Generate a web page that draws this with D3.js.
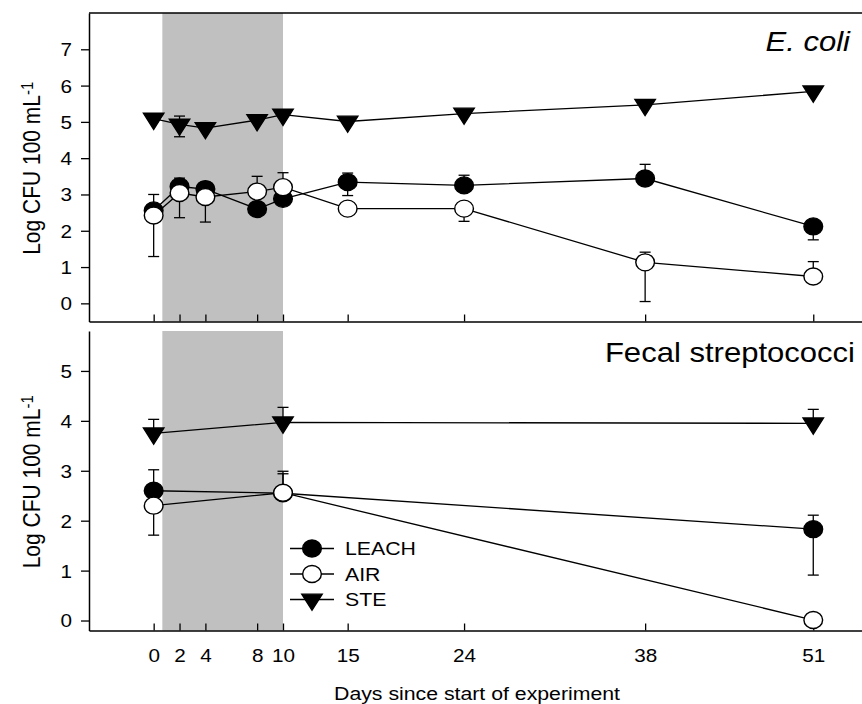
<!DOCTYPE html>
<html>
<head>
<meta charset="utf-8">
<script src="https://cdn.jsdelivr.net/npm/d3@7"></script>
<style>
  body { margin: 0; background: #fff; }
  text { font-family: "Liberation Sans", Arial, sans-serif; fill: #000; }
</style>
</head>
<body>
<div id="chart"></div>
<script>
// days sampled
var ecoliDays = [0, 2, 4, 8, 10, 15, 24, 38, 51];
var fecalDays = [0, 10, 51];
var axisDays  = [0, 2, 4, 8, 10, 15, 24, 38, 51];

// E. coli, log CFU 100 mL-1
var ecoliLeach = [2.56, 3.22, 3.15, 2.60, 2.88, 3.34, 3.25, 3.44, 2.12];
var ecoliAir   = [2.42, 3.04, 2.93, 3.08, 3.20, 2.61, 2.61, 1.13, 0.74];
var ecoliSte   = [5.09, 4.93, 4.83, 5.05, 5.20, 5.01, 5.23, 5.47, 5.84];
// error bar ends (as drawn)
var ecoliLeachBars = [[3.00], [3.45], [3.34], [], [], [3.59, 2.97], [3.53], [3.83], [1.75]];
var ecoliAirBars   = [[1.29], [2.36], [2.24], [3.50], [3.60], [], [2.26], [1.41, 0.05], [1.15]];
var ecoliSteBars   = [[], [5.16, 4.59], [], [], [], [], [], [], []];

// Fecal streptococci
var fecalLeach = [2.60, 2.55, 1.83];
var fecalAir   = [2.30, 2.56, 0.01];
var fecalSte   = [3.75, 3.97, 3.95];
var fecalLeachBars = [[3.02], [2.99], [2.11, 0.91]];
var fecalAirBars   = [[1.71], [2.94], []];
var fecalSteBars   = [[4.03], [4.27], [4.23]];

var seriesNames = ["LEACH", "AIR", "STE"];
var shadeDays = [0.67, 10];
var ecoliTicks = [0, 1, 2, 3, 4, 5, 6, 7];
var fecalTicks = [0, 1, 2, 3, 4, 5];

var W = 862, H = 704, SX = 1.15;

var svg = d3.select("#chart").append("svg")
    .attr("width", W)
    .attr("height", H);

var x = d3.scaleLinear().domain([-5, 55]).range([89, 865]);

var panels = [
  { title: "E. coli", italic: true, titleY: 51, titleX: 850,
    y: d3.scaleLinear().domain([-0.5, 8]).range([321.5, 13]),
    ticks: ecoliTicks, days: ecoliDays, labels: false,
    data: [ecoliLeach, ecoliAir, ecoliSte],
    bars: [ecoliLeachBars, ecoliAirBars, ecoliSteBars] },
  { title: "Fecal streptococci", italic: false, titleY: 361.5, titleX: 855,
    y: d3.scaleLinear().domain([-0.2, 5.8]).range([630.5, 331]),
    ticks: fecalTicks, days: fecalDays, labels: true,
    data: [fecalLeach, fecalAir, fecalSte],
    bars: [fecalLeachBars, fecalAirBars, fecalSteBars] }
];

var circle = d3.symbol().type(d3.symbolCircle).size(Math.PI * 8.5 * 8.5)();
var tri = d3.symbol().type(d3.symbolTriangle).size(150)();
var markers = [
  { path: circle, fill: "#000", rot: 0 },
  { path: circle, fill: "#fff", rot: 0 },
  { path: tri,    fill: "#000", rot: 180 }
];

function markerTransform(px, py, m) {
  return "translate(" + px + "," + py + ") scale(1.1,1) rotate(" + m.rot + ")";
}

panels.forEach(function(p) {
  var y = p.y;
  var g = svg.append("g");
  var y0 = y.range()[0], y1 = y.range()[1];

  // shaded period
  g.append("rect")
      .attr("x", x(shadeDays[0]))
      .attr("y", y1)
      .attr("width", x(shadeDays[1]) - x(shadeDays[0]))
      .attr("height", y0 - y1)
      .attr("fill", "#c0c0c0");

  // y axis
  var ya = g.append("g")
      .attr("transform", "translate(" + x.range()[0] + ",0)")
      .call(d3.axisLeft(y).tickValues(p.ticks).tickSizeInner(8).tickSizeOuter(0).tickFormat(d3.format("d")));
  ya.selectAll("text")
      .attr("x", null).attr("dy", "0.36em")
      .attr("transform", "translate(-17,0) scale(" + SX + ",1)")
      .style("font-size", "18px");

  // x axis (ticks inside)
  var xa = g.append("g")
      .attr("transform", "translate(0," + y0 + ")")
      .call(d3.axisBottom(x).tickValues(axisDays).tickSizeInner(-7).tickSizeOuter(0).tickPadding(18.5));
  if (p.labels) {
    xa.selectAll("text")
        .attr("transform", "scale(" + SX + ",1)")
        .style("font-size", "18px");
  } else {
    xa.selectAll("text").remove();
  }
  [ya, xa].forEach(function(a) {
    a.select(".domain").attr("stroke-width", 1.5);
    a.selectAll(".tick line").attr("stroke-width", 1.3);
  });

  // y title
  var yt = g.append("text")
      .attr("text-anchor", "middle")
      .attr("transform", "translate(40," + ((y0 + y1) / 2 + 1) + ") scale(1.1,1) rotate(-90)")
      .style("font-size", "21px");
  yt.append("tspan").text("Log CFU 100 mL");
  yt.append("tspan").attr("dy", "-0.45em").style("font-size", "15px").text("-1");

  // panel title
  g.append("text")
      .attr("text-anchor", "end")
      .attr("transform", "translate(" + p.titleX + "," + p.titleY + ") scale(" + SX + ",1)")
      .style("font-size", "27px")
      .style("font-style", p.italic ? "italic" : "normal")
      .text(p.title);

  var line = d3.line()
      .x(function(d, i) { return x(p.days[i]); })
      .y(function(d) { return y(d); });

  p.data.forEach(function(vals, si) {
    var s = g.append("g");
    s.append("path")
        .attr("d", line(vals))
        .attr("fill", "none")
        .attr("stroke", "#000")
        .attr("stroke-width", 1.3);

    // error bars
    p.bars[si].forEach(function(ends, i) {
      ends.forEach(function(e) {
        var px = x(p.days[i]);
        s.append("line")
            .attr("x1", px).attr("x2", px)
            .attr("y1", y(vals[i])).attr("y2", y(e))
            .attr("stroke", "#000").attr("stroke-width", 1.3);
        s.append("line")
            .attr("x1", px - 5.5).attr("x2", px + 5.5)
            .attr("y1", y(e)).attr("y2", y(e))
            .attr("stroke", "#000").attr("stroke-width", 1.3);
      });
    });

    s.selectAll(".mk")
        .data(vals)
      .enter().append("path")
        .attr("d", markers[si].path)
        .attr("transform", function(d, i) { return markerTransform(x(p.days[i]), y(d), markers[si]); })
        .attr("fill", markers[si].fill)
        .attr("stroke", "#000")
        .attr("stroke-width", 1.3);
  });
});

// top border of upper panel
svg.append("line")
    .attr("x1", x.range()[0]).attr("x2", x.range()[1])
    .attr("y1", 13).attr("y2", 13)
    .attr("stroke", "#000").attr("stroke-width", 1.5);

// x title
svg.append("text")
    .attr("text-anchor", "middle")
    .attr("transform", "translate(" + ((x.range()[0] + x.range()[1]) / 2) + ",700) scale(" + SX + ",1)")
    .style("font-size", "18.5px")
    .text("Days since start of experiment");

// legend
var lg = svg.append("g").attr("transform", "translate(290,548.5)");
seriesNames.forEach(function(name, i) {
  var row = lg.append("g").attr("transform", "translate(0," + (i * 25.5) + ")");
  row.append("line")
      .attr("x1", 0).attr("x2", 44)
      .attr("stroke", "#000").attr("stroke-width", 1.3);
  row.append("path")
      .attr("d", markers[i].path)
      .attr("transform", markerTransform(22, 0, markers[i]))
      .attr("fill", markers[i].fill)
      .attr("stroke", "#000").attr("stroke-width", 1.3);
  row.append("text")
      .attr("transform", "translate(55,0) scale(" + SX + ",1)")
      .attr("dy", "0.36em")
      .style("font-size", "18.5px")
      .text(name);
});
</script>
</body>
</html>
